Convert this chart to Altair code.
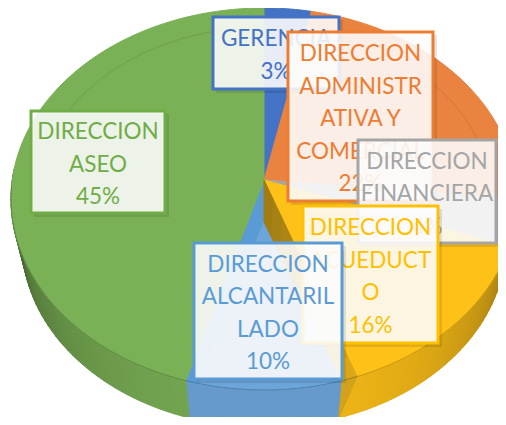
import math
import altair as alt

categories = ["GERENCIA", "DIRECCION ADMINISTRATIVA Y COMERCIAL", "DIRECCION FINANCIERA",
              "DIRECCION ACUEDUCTO", "DIRECCION ALCANTARILLADO", "DIRECCION ASEO"]
shares = [3, 22, 4, 16, 10, 45]
colors = ["#4472c4", "#e9833f", "#a5a5a5", "#fec118", "#5b9bd5", "#7bb156"]
label_colors = ["#4472c4", "#ed7d31", "#a5a5a5", "#ffc000", "#5b9bd5", "#70ad47"]
label_text = ["GERENCIA\n3%", "DIRECCION\nADMINISTR\nATIVA Y\nCOMERCIAL\n22%",
              "DIRECCION\nFINANCIERA\n4%", "DIRECCION\nACUEDUCT\nO\n16%",
              "DIRECCION\nALCANTARIL\nLADO\n10%", "DIRECCION\nASEO\n45%"]
# box layout: left, top, right, bottom, in reference pixels
boxes = [(213, 17, 339, 89), (288, 32, 433, 201), (358, 140, 496, 243),
         (303, 206, 438, 343), (194, 243, 342, 379), (31, 111, 165, 213)]
draw_order = [5, 0, 1, 2, 3, 4]

CX, CY, RX, RY = 264, 199, 253, 191
CY2, RX2, RY2 = 242, 242, 185
AX, AY = 264, 180
DROP = 42
W, H = 490, 409
LINE = 32.5
TEXT_SHIFT = 2.5


def px(x):
    return x - 8


def py(y):
    return y - 8


def rim(a, s=1.0):
    return [CX + s * RX * math.sin(a), CY - s * RY * math.cos(a)]


def low(a):
    return [CX + RX2 * math.sin(a), CY2 - RY2 * math.cos(a)]


def shade(hex_c, f):
    r, g, b = [int(hex_c[i:i + 2], 16) for i in (1, 3, 5)]
    return "#%02x%02x%02x" % tuple(int(min(255, v * f)) for v in (r, g, b))


def mix(c1, c2, t):
    p = [int(c1[i:i + 2], 16) for i in (1, 3, 5)]
    q = [int(c2[i:i + 2], 16) for i in (1, 3, 5)]
    return "#%02x%02x%02x" % tuple(int(u + (v - u) * t) for u, v in zip(p, q))


def tr(points):
    return [[px(x), py(y)] for x, y in points]


def feature(ring, color):
    return {"type": "Feature", "properties": {"color": color},
            "geometry": {"type": "Polygon", "coordinates": [tr(ring + [ring[0]])]}}


def line(points):
    return {"type": "Feature", "properties": {},
            "geometry": {"type": "LineString", "coordinates": tr(points)}}


def lerp(p, q, t):
    return [p[0] + (q[0] - p[0]) * t, p[1] + (q[1] - p[1]) * t]


side, top = [], []
edges = [0.0]
start = 0.0
for share, col in zip(shares, colors):
    a0 = start / 100 * 2 * math.pi
    a1 = (start + share) / 100 * 2 * math.pi
    start += share
    edges.append(a1)
    steps = max(2, int(share * 2))
    angs = [a0 + (a1 - a0) * i / steps for i in range(steps + 1)]
    top.append(feature([[AX, AY]] + [rim(a) for a in angs], col))
    for u, v in zip(angs[:-1], angs[1:]):
        mid = (u + v) / 2
        if math.cos(mid) < 0.15:
            f = 0.48 + 0.47 * max(0.0, -math.cos(mid)) ** 0.7
            c = "#6699cc" if col == colors[4] else shade(col, f)
            side.append(feature([rim(u), rim(v), low(v), low(u)], c))

# walls where the alcantarillado slice is pulled out of the pie
e_yellow, e_blue = edges[4], edges[5]
inner = [AX, AY + DROP]
corner = rim(e_yellow - math.radians(3.6))
lower_corner = low(e_yellow)
span = [e_yellow + (e_blue - 0.05 - e_yellow) * i / 12 for i in range(13)]
walls = [feature([inner] + [rim(a) for a in span], "#6ca5da")]
n = 10
for i in range(n):
    t0, t1 = i / n, (i + 1) / n
    walls.append(feature([lerp([AX, AY], corner, t0), lerp([AX, AY], corner, t1),
                          lerp(inner, rim(e_yellow), t1), lerp(inner, rim(e_yellow), t0)],
                         mix("#9a7812", "#d9a81a", t1)))
walls.append(feature([rim(e_yellow), corner, lower_corner], "#d2a21c"))


def shapes(feats):
    return alt.Chart(alt.Data(values=feats)).mark_geoshape(strokeWidth=1).encode(
        fill=alt.Color("properties.color:N", scale=None),
        stroke=alt.Color("properties.color:N", scale=None),
    ).project(type="identity", scale=1, translate=[0, 0])


def strokes(feats, opacity):
    return alt.Chart(alt.Data(values=feats)).mark_geoshape(
        filled=False, stroke="#000000", strokeOpacity=opacity, strokeWidth=1
    ).project(type="identity", scale=1, translate=[0, 0])


front = [rim(math.radians(d)) for d in range(85, 276, 3)]
bevel = [rim(math.radians(d), 0.9) for d in range(-70, 72, 3)]
layers = [shapes(side), shapes(top), shapes(walls),
          strokes([line(front)], 0.22), strokes([line(bevel)], 0.10)]
one = alt.Data(values=[{"k": 1}])
for i in draw_order:
    l, t, r, b = boxes[i]
    layers.append(alt.Chart(one).mark_rect(fill="#000000", opacity=0.10).encode(
        x=alt.value(px(l) + 3), x2=alt.value(px(r) + 4),
        y=alt.value(py(t) + 3), y2=alt.value(py(b) + 4)))
    layers.append(alt.Chart(one).mark_rect(
        fill="#ffffff", fillOpacity=0.88,
        stroke=label_colors[i], strokeWidth=3).encode(
        x=alt.value(px(l)), x2=alt.value(px(r)),
        y=alt.value(py(t)), y2=alt.value(py(b))))
    lines = label_text[i].count("\n")
    layers.append(alt.Chart(alt.Data(values=[{"t": label_text[i]}])).mark_text(
        font="Lato", fontSize=22.5, lineBreak="\n", lineHeight=LINE,
        baseline="middle", align="center", color=label_colors[i]).encode(
        text="t:N",
        x=alt.value(px((l + r) / 2)),
        y=alt.value(py((t + b) / 2) - lines * LINE / 2 + TEXT_SHIFT)))

chart = alt.layer(*layers).properties(
    width=W, height=H, padding=0,
    autosize=alt.AutoSizeParams(type="none"),
    background="#ffffff",
).configure_view(stroke=None)

chart.save("out.html", embed_options={"renderer": "svg", "actions": False})
